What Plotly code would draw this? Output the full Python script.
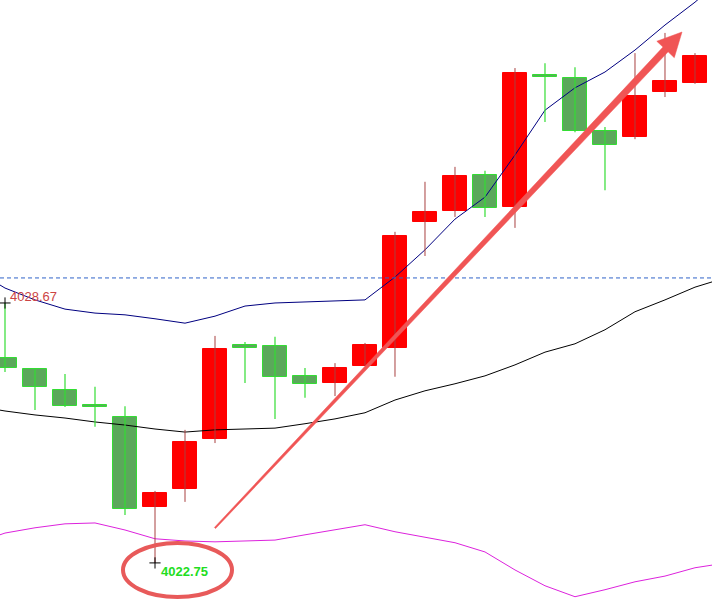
import plotly.graph_objects as go
import math

# ---- data (prices) ----
idx = list(range(24))
opens  = [4027.42, 4027.17, 4026.69, 4026.35, 4026.07, 4024.03, 4024.43, 4025.57,
          4027.71, 4027.69, 4027.01, 4026.85, 4027.24, 4027.65, 4030.51, 4030.76,
          4031.58, 4030.86, 4033.86, 4033.79, 4032.59, 4032.45, 4033.47, 4033.68]
highs  = [4028.67, 4027.19, 4027.05, 4026.76, 4026.32, 4024.39, 4025.78, 4027.92,
          4027.78, 4027.90, 4027.19, 4027.30, 4027.76, 4030.29, 4031.43, 4031.77,
          4031.68, 4034.02, 4034.13, 4034.04, 4032.68, 4034.36, 4034.82, 4034.36]
lows   = [4027.10, 4026.23, 4026.30, 4025.85, 4023.84, 4022.75, 4024.14, 4025.48,
          4026.85, 4026.03, 4026.51, 4026.55, 4027.24, 4026.99, 4029.74, 4030.63,
          4030.63, 4030.38, 4032.79, 4032.56, 4031.24, 4032.40, 4033.36, 4033.66]
closes = [4027.19, 4026.76, 4026.32, 4026.30, 4023.98, 4024.34, 4025.51, 4027.62,
          4027.65, 4026.99, 4026.83, 4027.19, 4027.71, 4030.20, 4030.74, 4031.56,
          4030.83, 4033.91, 4033.82, 4032.59, 4032.27, 4033.38, 4033.72, 4034.29]

band_x = [-0.17] + list(range(24)) + [23.57]
upper  = [4029.08, 4029.01, 4028.74, 4028.53, 4028.44, 4028.40, 4028.31, 4028.21, 4028.37,
          4028.60, 4028.67, 4028.69, 4028.72, 4028.74, 4029.26, 4029.88, 4030.58,
          4031.08, 4032.04, 4033.06, 4033.57, 4033.93, 4034.43, 4035.00, 4035.52, 4035.86]
middle = [4026.23, 4026.21, 4026.12, 4026.05, 4025.96, 4025.89, 4025.80, 4025.73, 4025.78,
          4025.80, 4025.82, 4025.92, 4026.03, 4026.17, 4026.46, 4026.67, 4026.83,
          4027.01, 4027.26, 4027.55, 4027.74, 4028.06, 4028.47, 4028.74, 4029.03, 4029.15]
lower  = [4023.39, 4023.43, 4023.55, 4023.64, 4023.66, 4023.50, 4023.30, 4023.25, 4023.23,
          4023.25, 4023.27, 4023.39, 4023.50, 4023.62, 4023.46, 4023.34, 4023.21,
          4023.00, 4022.59, 4022.23, 4021.98, 4022.14, 4022.32, 4022.45, 4022.64, 4022.70]

ref_price = 4029.24
high_label = "4028.67"
low_label = "4022.75"

# ---- axis geometry ----
W, H = 712, 602
XR = [-0.1667, 23.567]
YR = [4021.86, 4035.57]

def px_x(p):
    return XR[0] + p / W * (XR[1] - XR[0])

def px_y(p):
    return YR[1] - p / H * (YR[1] - YR[0])

RED = "#ff0000"
RED_WICK = "#a84040"
GREEN_FILL = "#5ba85b"
GREEN_LINE = "#33dd33"

fig = go.Figure()

# bands
fig.add_trace(go.Scatter(x=band_x, y=upper, mode="lines",
                         line=dict(color="#000080", width=1), hoverinfo="skip"))
fig.add_trace(go.Scatter(x=band_x, y=middle, mode="lines",
                         line=dict(color="#000000", width=1), hoverinfo="skip"))
fig.add_trace(go.Scatter(x=band_x, y=lower, mode="lines",
                         line=dict(color="#dd22dd", width=1), hoverinfo="skip"))

# wicks
def wick_xy(sel):
    xs, ys = [], []
    for i in sel:
        xs += [idx[i], idx[i], None]
        ys += [highs[i], lows[i], None]
    return xs, ys

up = [i for i in idx if closes[i] >= opens[i]]
dn = [i for i in idx if closes[i] < opens[i]]

wx, wy = wick_xy(up)
fig.add_trace(go.Scatter(x=wx, y=wy, mode="lines",
                         line=dict(color=RED_WICK, width=1), hoverinfo="skip"))
wx, wy = wick_xy(dn)
fig.add_trace(go.Scatter(x=wx, y=wy, mode="lines",
                         line=dict(color=GREEN_LINE, width=1.2), hoverinfo="skip"))

# bodies
fig.add_trace(go.Bar(x=[idx[i] for i in up],
                     y=[closes[i] - opens[i] for i in up],
                     base=[opens[i] for i in up], width=0.8,
                     marker=dict(color=RED, line=dict(color=RED, width=1))))
fig.add_trace(go.Bar(x=[idx[i] for i in dn],
                     y=[opens[i] - closes[i] for i in dn],
                     base=[closes[i] for i in dn], width=0.8,
                     marker=dict(color=GREEN_FILL, line=dict(color=GREEN_LINE, width=1))))

# crosshair marks at extreme points
hi_i = highs.index(max(highs[:5]))
lo_i = lows.index(min(lows))
fig.add_trace(go.Scatter(x=[idx[hi_i], idx[lo_i]], y=[highs[hi_i], lows[lo_i]],
                         mode="markers",
                         marker=dict(symbol="cross-thin", size=8,
                                     line=dict(color="black", width=1)),
                         hoverinfo="skip"))

# dashed reference line
fig.add_shape(type="line", xref="paper", x0=0, x1=1, yref="y", y0=ref_price, y1=ref_price,
              line=dict(color="#2f63c8", width=1, dash="4px,3px"))

# labels
fig.add_annotation(x=idx[hi_i], y=highs[hi_i], text=high_label, showarrow=False,
                   xanchor="left", yanchor="bottom", xshift=3, yshift=-3,
                   font=dict(family="Arial, Liberation Sans", size=13, color="#cc4444"))
fig.add_annotation(x=idx[lo_i], y=lows[lo_i], text="<b>" + low_label + "</b>", showarrow=False,
                   xanchor="left", yanchor="middle", xshift=4, yshift=-9,
                   font=dict(family="Arial, Liberation Sans", size=13, color="#22dd22"))

# ellipse around low
fig.add_shape(type="circle", xref="x", yref="y",
              x0=px_x(123), x1=px_x(232), y0=px_y(597), y1=px_y(543),
              line=dict(color="#e85a5a", width=4))

# tapered arrow
sx, sy = 215, 528
tx, ty = 682, 32
dx, dy = tx - sx, ty - sy
L = math.hypot(dx, dy)
ux, uy = dx / L, dy / L
nx, ny = -uy, ux
hl, hw = 24, 12
bx, by = tx - hl * ux, ty - hl * uy
w0, w1 = 0.8, 3.5
pts = [(sx + w0 * nx, sy + w0 * ny), (bx + w1 * nx, by + w1 * ny),
       (bx + hw * nx, by + hw * ny), (tx, ty),
       (bx - hw * nx, by - hw * ny), (bx - w1 * nx, by - w1 * ny),
       (sx - w0 * nx, sy - w0 * ny)]
path = "M " + " L ".join(f"{px_x(a):.4f},{px_y(b):.4f}" for a, b in pts) + " Z"
fig.add_shape(type="path", xref="x", yref="y", path=path,
              fillcolor="#f05555", line=dict(color="#f05555", width=0.5))

fig.update_layout(
    width=W, height=H, margin=dict(l=0, r=0, t=0, b=0),
    paper_bgcolor="white", plot_bgcolor="white",
    showlegend=False, barmode="overlay", bargap=0,
    xaxis=dict(range=XR, visible=False, fixedrange=True),
    yaxis=dict(range=YR, visible=False, fixedrange=True),
)

fig.write_html("out.html")
